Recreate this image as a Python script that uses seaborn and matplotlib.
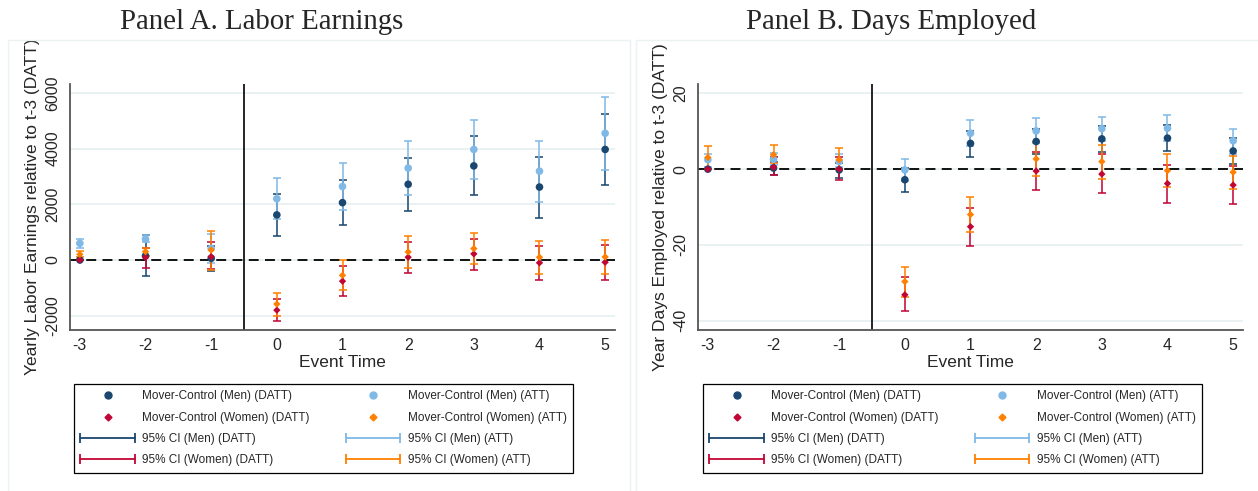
import numpy as np
import matplotlib
matplotlib.use('Agg')
import matplotlib.pyplot as plt
import seaborn as sns
from matplotlib.lines import Line2D
from matplotlib.legend_handler import HandlerLine2D
from matplotlib.patches import Rectangle
from matplotlib.transforms import Bbox, TransformedBbox

sns.set_style('white')
plt.rcParams['font.family'] = ['Liberation Sans', 'DejaVu Sans']
plt.rcParams['axes.unicode_minus'] = False

event_time = [-3, -2, -1, 0, 1, 2, 3, 4, 5]

# Panel A: labor earnings
earn_men_datt = [0, 150, 60, 1620, 2060, 2720, 3380, 2620, 3970]
earn_men_datt_lo = [0, -576, -390, 864, 1240, 1760, 2340, 1520, 2680]
earn_men_datt_hi = [0, 900, 490, 2380, 2890, 3670, 4440, 3710, 5260]
earn_men_att = [600, 756, 420, 2200, 2640, 3300, 3970, 3190, 4550]
earn_men_att_lo = [444, 660, -100, 1480, 1810, 2320, 2920, 2100, 3240]
earn_men_att_hi = [744, 900, 940, 2930, 3480, 4270, 5020, 4280, 5870]
earn_women_datt = [0, 96, 120, -1800, -760, 100, 220, -100, -80]
earn_women_datt_lo = [0, -276, -340, -2180, -1300, -460, -360, -720, -720]
earn_women_datt_hi = [0, 444, 650, -1400, -200, 650, 770, 490, 540]
earn_women_att = [204, 300, 360, -1580, -550, 290, 410, 100, 110]
earn_women_att_lo = [96, 156, -360, -2000, -1090, -280, -160, -520, -520]
earn_women_att_hi = [324, 420, 1040, -1180, 0, 850, 970, 700, 730]

# Panel B: days employed
days_men_datt = [0, 0.3, -0.2, -2.8, 6.8, 7.3, 8.0, 8.2, 4.8]
days_men_datt_lo = [0, -1.5, -2.4, -6.0, 3.3, 3.9, 4.5, 4.8, 1.3]
days_men_datt_hi = [0, 2.0, 1.6, 0.3, 10.2, 10.7, 11.5, 11.6, 8.3]
days_men_att = [2.5, 2.6, 2.0, -0.2, 9.5, 10.1, 10.7, 10.8, 7.5]
days_men_att_lo = [0.5, 1.2, 0.5, -3.0, 6.0, 6.9, 7.4, 7.5, 4.1]
days_men_att_hi = [4.0, 4.3, 4.0, 2.8, 12.9, 13.4, 13.9, 14.2, 10.7]
days_women_datt = [0, 0.5, 0.0, -33.2, -15.2, -0.5, -1.3, -3.8, -4.2]
days_women_datt_lo = [0, -1.5, -2.8, -37.4, -20.4, -5.6, -6.4, -8.9, -9.2]
days_women_datt_hi = [0, 3.2, 3.3, -28.5, -10.2, 4.5, 4.0, 1.2, 0.8]
days_women_att = [3.1, 3.8, 2.5, -29.7, -12.0, 2.7, 2.0, -0.4, -0.8]
days_women_att_lo = [0, 1.5, 0.0, -33.7, -16.7, -1.9, -2.6, -4.8, -5.3]
days_women_att_hi = [6.0, 6.5, 5.7, -25.9, -7.4, 7.2, 6.4, 4.0, 3.4]

navy = '#1a476f'
ltblue = '#80b9e6'
cranberry = '#c10534'
orange = '#ff8000'

W, H = 1258, 491
fig = plt.figure(figsize=(W / 100, H / 100), dpi=100)


def draw_panel(ax, series, yticks, ylim, ylabel, frame):
    # CIs first, then points on top
    for est, lo, hi, color, marker, size in series:
        est = np.array(est)
        err = [est - np.array(lo), np.array(hi) - est]
        ax.errorbar(event_time, est, yerr=err, fmt='none', ecolor=color,
                    elinewidth=1.4, capsize=3, capthick=1.4, alpha=0.8, zorder=3)
    for est, lo, hi, color, marker, size in series:
        sns.scatterplot(x=event_time, y=est, marker=marker, s=size, color=color,
                        edgecolor='none', ax=ax, zorder=4, legend=False)
    ax.axhline(0, color='black', ls=(0, (5.5, 3.5)), lw=1.3, zorder=2)
    ax.axvline(-0.5, color='black', lw=1.2, zorder=2)
    ax.set_xlim(-3.15, 5.15)
    ax.set_ylim(*ylim)
    ax.set_xticks(event_time)
    ax.set_yticks(yticks)
    ax.yaxis.grid(True, color='#e6eff1', lw=1.2)
    ax.set_axisbelow(True)
    for s in ['top', 'right']:
        ax.spines[s].set_visible(False)
    for s in ['left', 'bottom']:
        ax.spines[s].set_color('#555555')
        ax.spines[s].set_linewidth(1.3)
    ax.tick_params(axis='both', direction='out', length=4, width=1, color='#555555',
                   labelsize=11.5, pad=2)
    ax.tick_params(axis='y', labelrotation=90, pad=3)
    for lab in ax.get_yticklabels():
        lab.set_va('center')
    ax.set_xlabel('Event Time', fontsize=12.5, labelpad=1)
    ax.set_ylabel(ylabel, fontsize=12.5, labelpad=4)
    x0, y0, x1, y1 = frame
    rect = Rectangle((x0 / W, 1 - y1 / H), (x1 - x0) / W, (y1 - y0) / H,
                     transform=fig.transFigure, fill=False, edgecolor='#eaf2f3', lw=1)
    fig.add_artist(rect)
    clip = TransformedBbox(Bbox([[x0 / W, 1 - y1 / H], [x1 / W, 1 - y0 / H]]), fig.transFigure)
    ax.yaxis.label.set_clip_box(clip)


def add_legend(x0, x1):
    h = [Line2D([], [], ls='none', marker='o', ms=5, color=navy),
         Line2D([], [], ls='none', marker='D', ms=3.5, color=cranberry),
         Line2D([], [], color=navy, lw=1.3, marker='|', ms=7, mew=1.3),
         Line2D([], [], color=cranberry, lw=1.3, marker='|', ms=7, mew=1.3),
         Line2D([], [], ls='none', marker='o', ms=5, color=ltblue),
         Line2D([], [], ls='none', marker='D', ms=3.5, color=orange),
         Line2D([], [], color=ltblue, lw=1.3, marker='|', ms=7, mew=1.3),
         Line2D([], [], color=orange, lw=1.3, marker='|', ms=7, mew=1.3)]
    labels = ['Mover-Control (Men) (DATT)', 'Mover-Control (Women) (DATT)',
              '95% CI (Men) (DATT)', '95% CI (Women) (DATT)',
              'Mover-Control (Men) (ATT)', 'Mover-Control (Women) (ATT)',
              '95% CI (Men) (ATT)', '95% CI (Women) (ATT)']
    hmap = {hh: HandlerLine2D(numpoints=2, marker_pad=0) for hh in [h[2], h[3], h[6], h[7]]}
    leg = fig.legend(h, labels, ncol=2, loc='upper left',
                     bbox_to_anchor=(x0 / W, 1 - 384 / H, (x1 - x0) / W, 0),
                     mode='expand', borderaxespad=0, fontsize=8.5,
                     handlelength=4.6, handletextpad=0.65, labelspacing=0.78,
                     borderpad=0.55, fancybox=False, framealpha=1,
                     edgecolor='black', handler_map=hmap)
    leg.get_frame().set_linewidth(0.9)


ax_a = fig.add_axes([70 / W, 1 - 330 / H, 545 / W, 246 / H])
draw_panel(ax_a,
           [(earn_men_datt, earn_men_datt_lo, earn_men_datt_hi, navy, 'o', 30),
            (earn_men_att, earn_men_att_lo, earn_men_att_hi, ltblue, 'o', 30),
            (earn_women_datt, earn_women_datt_lo, earn_women_datt_hi, cranberry, 'D', 14),
            (earn_women_att, earn_women_att_lo, earn_women_att_hi, orange, 'D', 14)],
           [-2000, 0, 2000, 4000, 6000], (-2513, 6320),
           'Yearly Labor Earnings relative to t-3 (DATT)', (8, 40, 630, 495))

ax_b = fig.add_axes([698 / W, 1 - 330 / H, 545 / W, 246 / H])
draw_panel(ax_b,
           [(days_men_datt, days_men_datt_lo, days_men_datt_hi, navy, 'o', 30),
            (days_men_att, days_men_att_lo, days_men_att_hi, ltblue, 'o', 30),
            (days_women_datt, days_women_datt_lo, days_women_datt_hi, cranberry, 'D', 14),
            (days_women_att, days_women_att_lo, days_women_att_hi, orange, 'D', 14)],
           [-40, -20, 0, 20], (-42.5, 22.5),
           'Year Days Employed relative to t-3 (DATT)', (636, 40, 1262, 495))

add_legend(74, 573)
add_legend(703, 1202)

fig.text(262 / W, 1 - 22 / H, 'Panel A. Labor Earnings', family='Liberation Serif',
         fontsize=20.8, ha='center', va='center')
fig.text(891 / W, 1 - 22 / H, 'Panel B. Days Employed', family='Liberation Serif',
         fontsize=20.8, ha='center', va='center')

fig.savefig('out.png', dpi=100)
